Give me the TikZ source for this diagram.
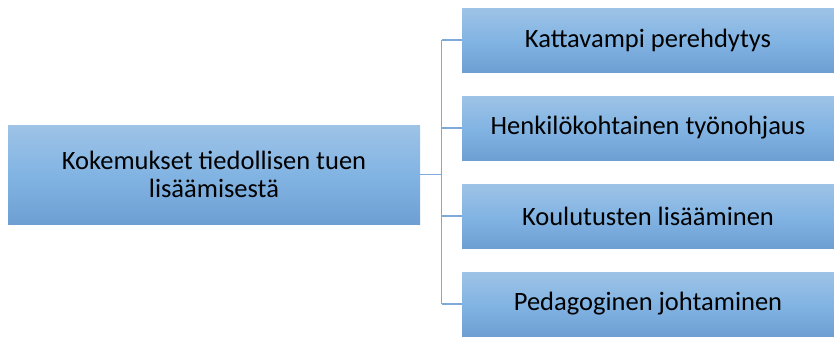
\documentclass[tikz,border=0pt]{standalone}
\usepackage{fontspec}
\setmainfont{Carlito}
\definecolor{boxtop}{HTML}{9EC3E6}
\definecolor{boxmid}{HTML}{82B4E3}
\definecolor{boxbot}{HTML}{6E9FD3}
\definecolor{linkcol}{HTML}{7EA9DA}
\begin{document}
\begin{tikzpicture}[x=1pt,y=-1pt,
  topic/.style={rectangle, inner sep=0pt, top color=boxtop, bottom color=boxbot, middle color=boxmid,
    font=\fontsize{26.5}{28.5}\selectfont, text=black, align=center},
  link/.style={draw=linkcol, line width=1.5pt}]
  \useasboundingbox (0,0) rectangle (834,338);
  % root topic
  \node[topic, minimum width=412pt, minimum height=99pt] (root) at (214,174.5)
    {Kokemukset tiedollisen tuen\\lisäämisestä};
  % sub-topics
  \node[topic, minimum width=372pt, minimum height=64pt] (s1) at (648,40) {Kattavampi perehdytys};
  \node[topic, minimum width=372pt, minimum height=64pt] (s2) at (648,128) {Henkilökohtainen työnohjaus};
  \node[topic, minimum width=372pt, minimum height=64pt] (s3) at (648,216) {Koulutusten lisääminen};
  \node[topic, minimum width=372pt, minimum height=64pt] (s4) at (648,304) {Pedagoginen johtaminen};
  % connectors
  \coordinate (hub) at (441.5,174.5);
  \coordinate (top) at (441.5,40);
  \coordinate (bot) at (441.5,304);
  \draw[link] (root.east) -- (hub);
  \draw[link] (top) -- (bot);
  \draw[link] (top) -- (s1.west);
  \draw[link] (441.5,128) -- (s2.west);
  \draw[link] (441.5,216) -- (s3.west);
  \draw[link] (bot) -- (s4.west);
\end{tikzpicture}
\end{document}
